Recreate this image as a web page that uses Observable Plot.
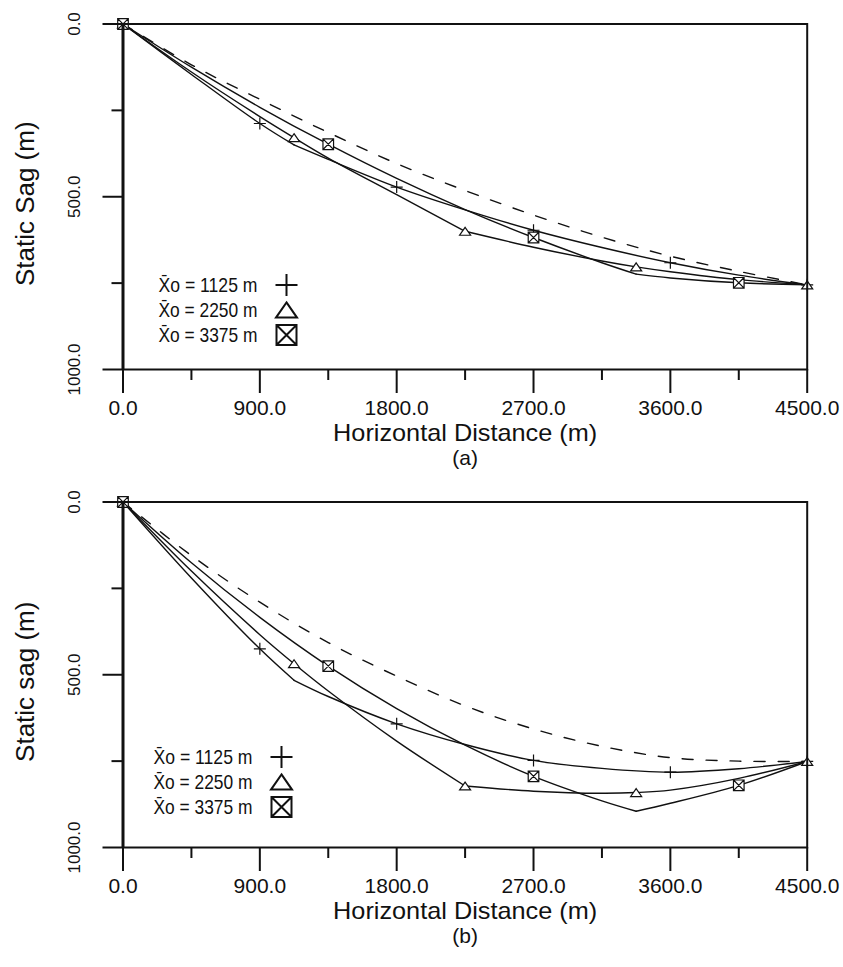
<!DOCTYPE html>
<html><head><meta charset="utf-8">
<script src="https://cdn.jsdelivr.net/npm/d3@7"></script>
<script src="https://cdn.jsdelivr.net/npm/@observablehq/plot@0.6"></script>
<style>
html,body{margin:0;padding:0;background:#fff;}
#wrap{width:843px;height:967px;overflow:hidden;}
svg{display:block;}
</style></head><body><div id="wrap"></div>
<script>
// ---- tick values / labels ----
const xTicksMajor = [0, 900, 1800, 2700, 3600, 4500];
const xTicksMinor = [450, 1350, 2250, 3150, 4050];
const yTicksMajor = [0, 500, 1000];
const yTicksMinor = [250, 750];
const legendLabels = ["X\u0304o = 1125 m", "X\u0304o = 2250 m", "X\u0304o = 3375 m"];
const loadPositions = [1125, 2250, 3375];
const markerSpacing = [900, 1125, 1350];

// ---- panel (a) ----
const a_dash_x = [0, 450, 900, 1350, 1800, 2250, 2700, 3150, 3600, 4050, 4500];
const a_dash_s = [0, 118, 218, 314, 404, 482, 553, 617, 672, 716, 755];
const a_1125_x = [0, 450, 900, 1125, 1350, 1800, 2250, 2700, 3150, 3600, 4050, 4500];
const a_1125_s = [0, 146, 288, 350, 392, 472, 538, 597, 647, 691, 727, 755];
const a_2250_x = [0, 450, 900, 1125, 1350, 1800, 2250, 2700, 3150, 3375, 3600, 4050, 4500];
const a_2250_s = [0, 139, 268, 329, 388, 494, 600, 646, 686, 703, 717, 740, 755];
const a_3375_x = [0, 450, 900, 1350, 1800, 2250, 2700, 3150, 3375, 3600, 4050, 4500];
const a_3375_s = [0, 125, 241, 348, 447, 537, 618, 691, 724, 735, 749, 755];

// ---- panel (b) ----
const b_dash_x = [0, 450, 900, 1350, 1800, 2250, 2700, 3150, 3600, 4050, 4500];
const b_dash_s = [0, 155, 290, 407, 504, 590, 657, 707, 740, 750, 751];
const b_1125_x = [0, 450, 900, 1125, 1350, 1800, 2250, 2700, 3150, 3600, 4050, 4500];
const b_1125_s = [0, 220, 425, 516, 563, 642, 702, 748, 771, 782, 772, 751];
const b_2250_x = [0, 450, 900, 1125, 1350, 1800, 2250, 2700, 3150, 3375, 3600, 4050, 4500];
const b_2250_s = [0, 200, 384, 468, 547, 692, 822, 837, 843, 841, 834, 800, 751];
const b_3375_x = [0, 450, 900, 1350, 1800, 2250, 2700, 3150, 3375, 3600, 4050, 4500];
const b_3375_s = [0, 176, 334, 475, 598, 704, 794, 865, 895, 872, 820, 751];

// ---- helpers ----
function lineRows(xs, ss, kink, name) {
  const rows = [];
  xs.forEach((x, i) => {
    if (kink == null || x <= kink) rows.push({x, s: ss[i], z: name + "-0"});
    if (kink != null && x >= kink) rows.push({x, s: ss[i], z: name + "-1"});
  });
  return rows;
}
function markerRows(xs, ss, step) {
  return xs.map((x, i) => ({x, s: ss[i]})).filter(d => d.x % step === 0);
}
const plusSym = {draw(ctx, size) { const r = Math.sqrt(size / Math.PI);
  ctx.moveTo(-r, 0); ctx.lineTo(r, 0); ctx.moveTo(0, -r); ctx.lineTo(0, r); }};
const triSym = {draw(ctx, size) { const r = Math.sqrt(size / Math.PI); const h = r * 0.72;
  ctx.moveTo(0, -h); ctx.lineTo(r, h); ctx.lineTo(-r, h); ctx.closePath(); }};
const boxXSym = {draw(ctx, size) { const r = Math.sqrt(size / Math.PI);
  ctx.moveTo(-r, -r); ctx.lineTo(r, -r); ctx.lineTo(r, r); ctx.lineTo(-r, r); ctx.closePath();
  ctx.moveTo(-r, -r); ctx.lineTo(r, r); ctx.moveTo(r, -r); ctx.lineTo(-r, r); }};
const symbols = [plusSym, triSym, boxXSym];
const plotR = [6, 5.5, 5.3];
const legendR = [11, 10.5, 10];

const FONT = "'Liberation Sans', Arial, Helvetica, sans-serif";
const INK = "#111";

function panel(cfg) {
  const series = cfg.series;
  const marks = [];
  marks.push(Plot.line(lineRows(cfg.dashX, cfg.dashS, null, "d"), {
    x: "x", y: "s", z: "z", curve: "catmull-rom", stroke: INK, strokeWidth: 1.4, strokeDasharray: "11,13"}));
  series.forEach((sr, k) => {
    marks.push(Plot.line(lineRows(sr.x, sr.s, loadPositions[k], "s" + k), {
      x: "x", y: "s", z: "z", curve: "catmull-rom", stroke: INK, strokeWidth: 1.4}));
  });
  series.forEach((sr, k) => {
    marks.push(Plot.dot(markerRows(sr.x, sr.s, markerSpacing[k]), {
      x: "x", y: "s", symbol: symbols[k], r: plotR[k], stroke: INK, strokeWidth: 1.2,
      fill: k === 0 ? "none" : "white"}));
  });
  marks.push(Plot.frame({stroke: INK, strokeWidth: 2}));
  marks.push(Plot.ruleX([0], {stroke: INK, strokeWidth: 3}));
  marks.push(Plot.axisX({ticks: xTicksMajor, tickSize: 24, tickPadding: 7, tickFormat: d => d.toFixed(1),
    fontSize: 21, label: null, stroke: INK, strokeWidth: 2}));
  marks.push(Plot.axisX({ticks: xTicksMinor, tickSize: 11, tickFormat: () => "", label: null, stroke: INK, strokeWidth: 2}));
  marks.push(Plot.axisY({ticks: yTicksMajor, tickSize: 20, tickPadding: 23, tickFormat: d => d.toFixed(1),
    tickRotate: -90, textAnchor: "middle", fontSize: 17, label: null, stroke: INK, strokeWidth: 2}));
  marks.push(Plot.axisY({ticks: yTicksMinor, tickSize: 11, tickFormat: () => "", label: null, stroke: INK, strokeWidth: 2}));
  marks.push(Plot.text([cfg.yTitle], {frameAnchor: "left", dx: -97, dy: 7, rotate: -90,
    textAnchor: "middle", lineAnchor: "middle", fontSize: 26, fill: INK}));
  marks.push(Plot.text(["Horizontal Distance (m)"], {frameAnchor: "bottom", dy: 64, lineAnchor: "middle",
    fontSize: 24, fill: INK, className: "xtitle"}));
  marks.push(Plot.text([cfg.tag], {frameAnchor: "bottom", dy: 89, lineAnchor: "middle",
    fontSize: 21, fill: INK}));
  legendLabels.forEach((t, i) => {
    marks.push(Plot.text([t], {frameAnchor: "top-left", dx: cfg.legX, dy: cfg.legY + i * 25,
      textAnchor: "start", lineAnchor: "middle", fontSize: 21, fill: INK, className: "legtext"}));
    marks.push(Plot.dot([0], {frameAnchor: "top-left", dx: cfg.symX, dy: cfg.legY + i * 25,
      symbol: symbols[i], r: legendR[i], stroke: INK, strokeWidth: 2, fill: "none"}));
  });
  const svg = Plot.plot({
    width: 843, height: 478,
    marginLeft: 122.5, marginRight: 36.3, marginTop: 23.5, marginBottom: 109,
    x: {domain: [0, 4500]},
    y: {domain: [0, 1000], reverse: true},
    style: {fontFamily: FONT, background: "white", color: INK, overflow: "visible"},
    marks
  });
  // condensed lettering, as in the reference
  svg.querySelectorAll(".legtext text").forEach(t => {
    t.setAttribute("textLength", 99);
    t.setAttribute("lengthAdjust", "spacingAndGlyphs");
  });
  svg.querySelectorAll(".xtitle text").forEach(t => {
    t.setAttribute("textLength", 264);
    t.setAttribute("lengthAdjust", "spacingAndGlyphs");
  });
  return svg;
}

const wrap = document.getElementById("wrap");
wrap.appendChild(panel({
  dashX: a_dash_x, dashS: a_dash_s,
  series: [{x: a_1125_x, s: a_1125_s}, {x: a_2250_x, s: a_2250_s}, {x: a_3375_x, s: a_3375_s}],
  yTitle: "Static Sag (m)", tag: "(a)", legX: 35.5, legY: 261, symX: 163.5
}));
wrap.appendChild(panel({
  dashX: b_dash_x, dashS: b_dash_s,
  series: [{x: b_1125_x, s: b_1125_s}, {x: b_2250_x, s: b_2250_s}, {x: b_3375_x, s: b_3375_s}],
  yTitle: "Static sag (m)", tag: "(b)", legX: 30.5, legY: 255, symX: 158.5
}));
</script></body></html>
